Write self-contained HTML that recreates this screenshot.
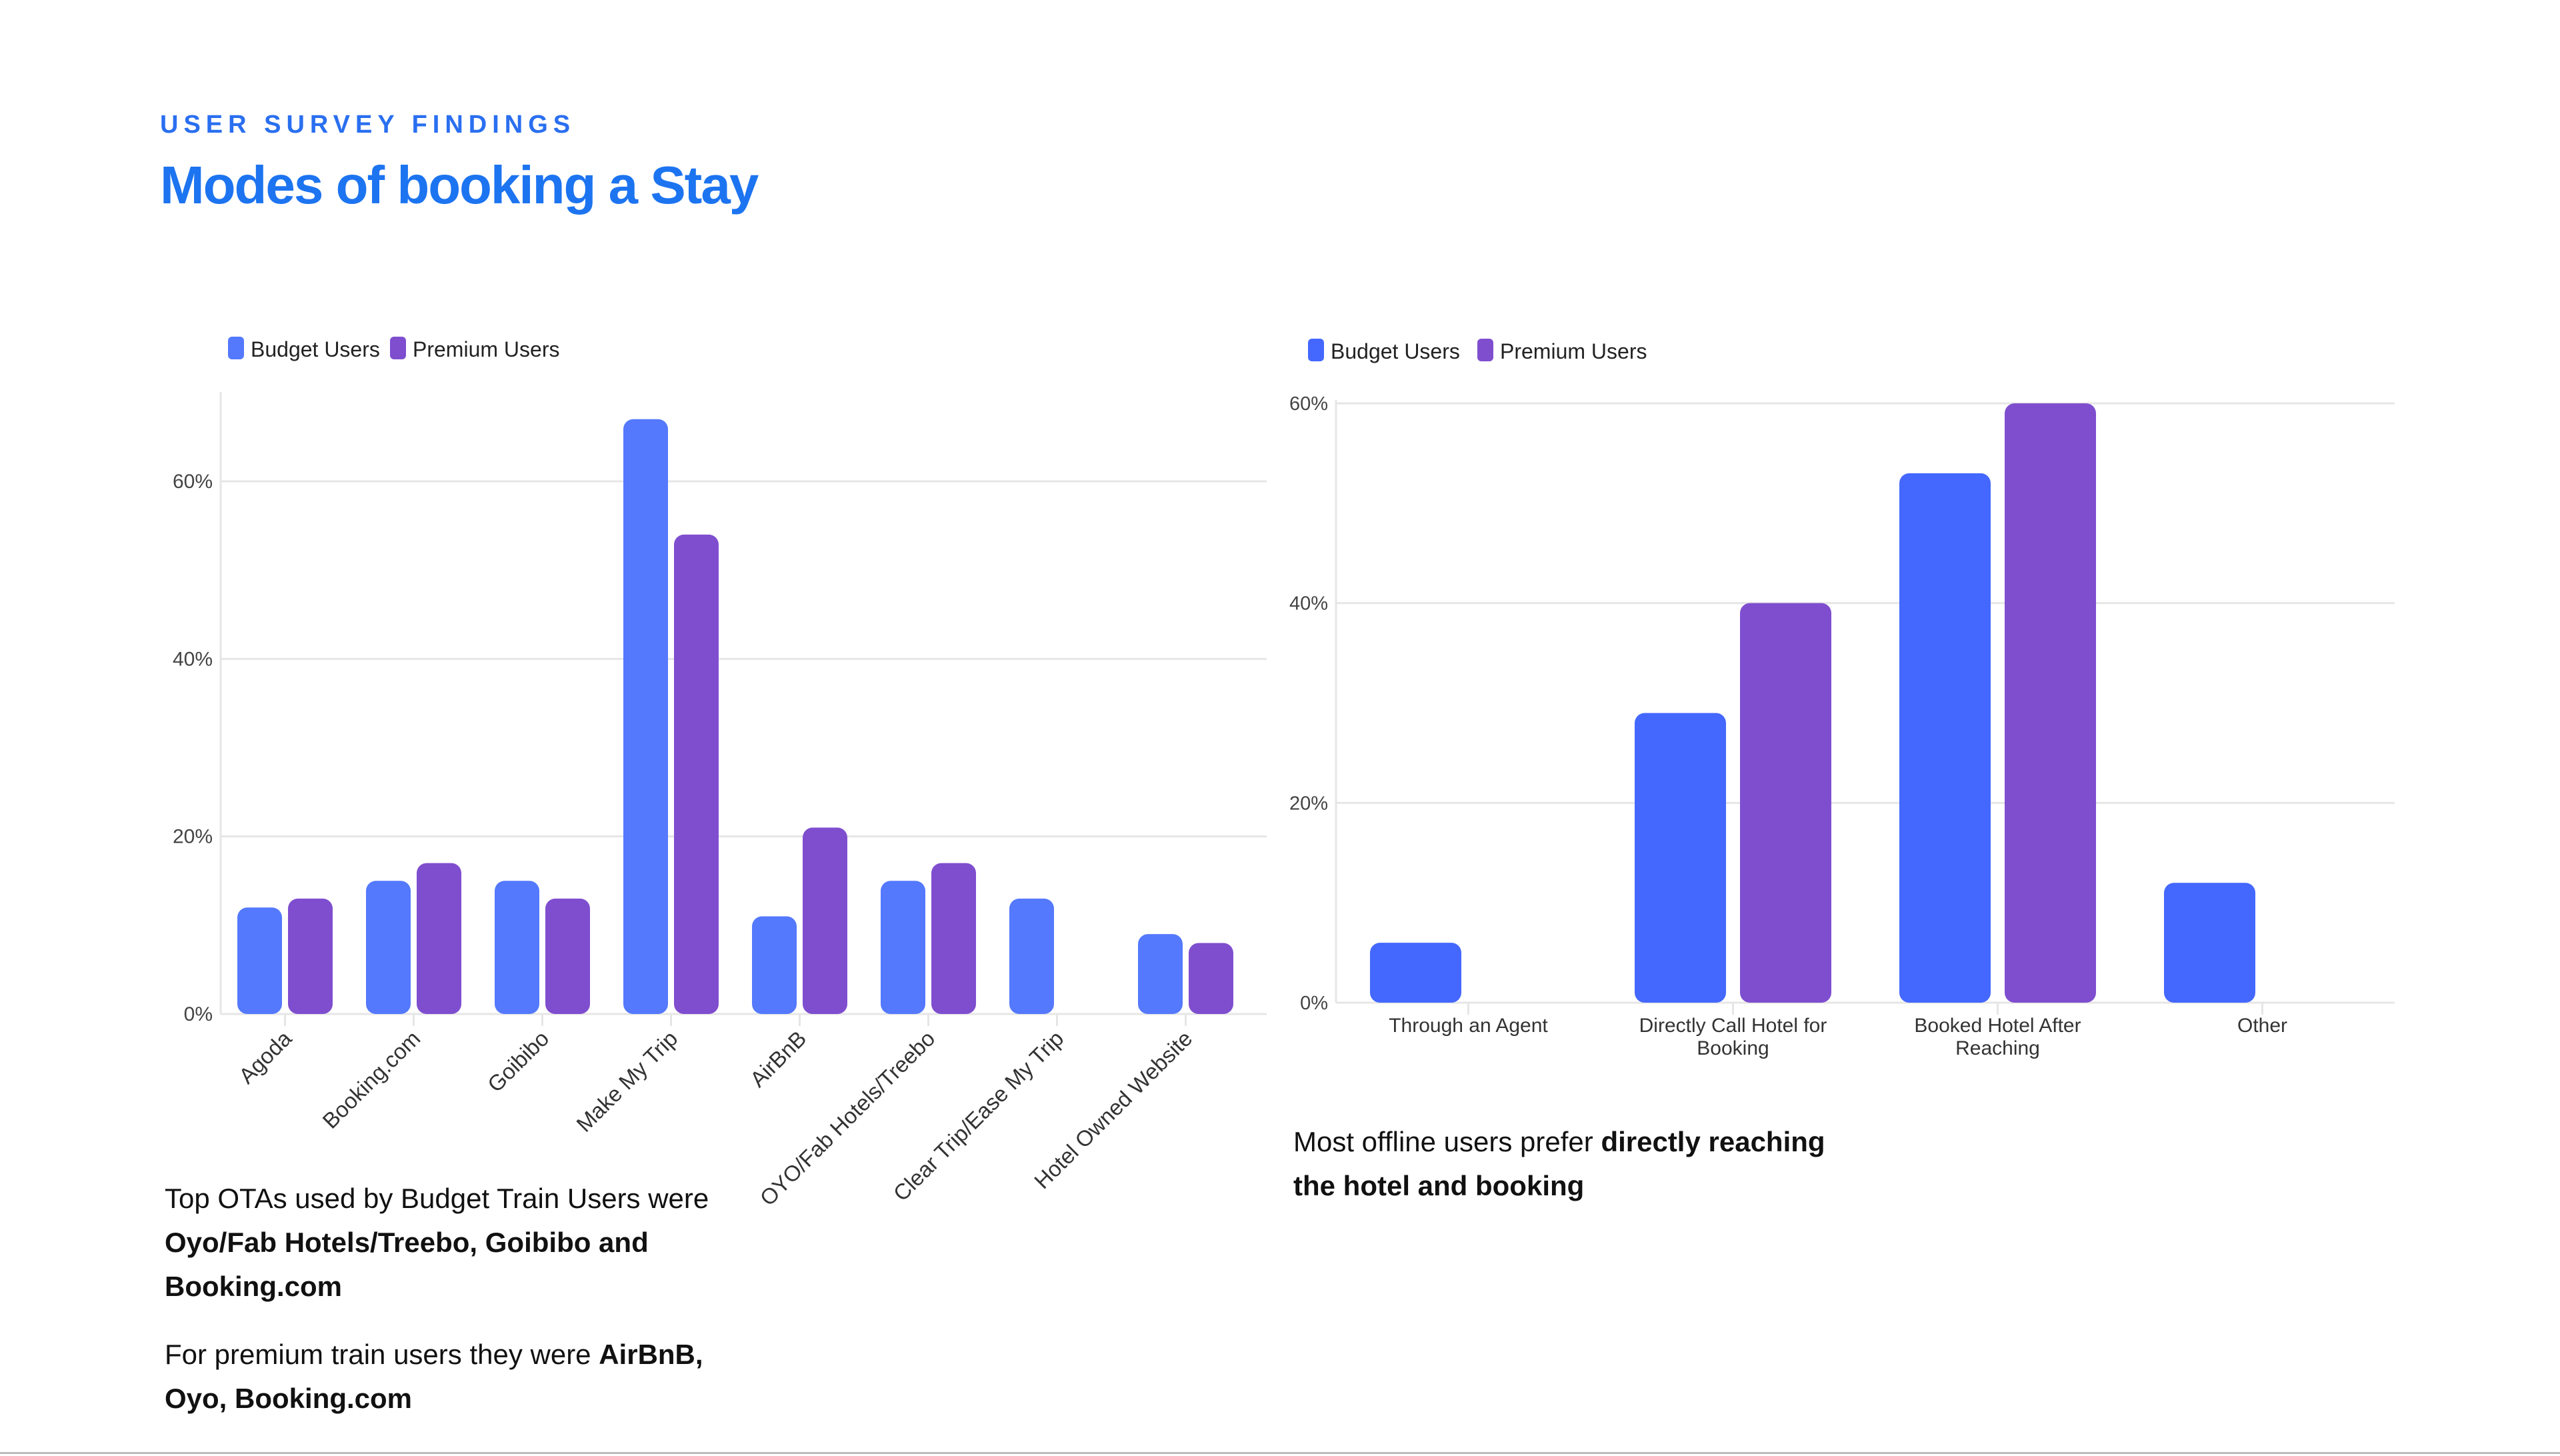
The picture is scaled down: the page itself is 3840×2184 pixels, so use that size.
<!DOCTYPE html>
<html><head><meta charset="utf-8"><style>
html,body{margin:0;padding:0;background:#fff;}
body{width:3840px;height:2184px;position:relative;overflow:hidden;font-family:"Liberation Sans",sans-serif;}
.abs{position:absolute;}
.kicker{left:240px;top:166px;font-size:38px;font-weight:bold;letter-spacing:8px;color:#2a6ff0;}
.title{left:240px;top:232px;font-size:80px;font-weight:bold;letter-spacing:-2px;color:#1d74f0;}
.para{font-size:42px;line-height:66px;color:#111;}
.para b{font-weight:bold;}
.bottom-line{left:0;top:2178px;width:3840px;height:3px;background:#bbb;}
</style></head><body>
<div class="abs kicker">USER SURVEY FINDINGS</div>
<div class="abs title">Modes of booking a Stay</div>
<svg class="abs" id="chart1" style="left:0;top:0" width="3840" height="2184"></svg>
<div class="abs para" style="left:247px;top:1765px;width:900px;">Top OTAs used by Budget Train Users were <b>Oyo/Fab Hotels/Treebo, Goibibo and Booking.com</b></div>
<div class="abs para" style="left:247px;top:1999px;width:900px;">For premium train users they were <b>AirBnB, Oyo, Booking.com</b></div>
<div class="abs para" style="left:1940px;top:1680px;width:840px;">Most offline users prefer <b>directly reaching the hotel and booking</b></div>
<div class="abs bottom-line"></div>
<script>
const otaCategories=["Agoda","Booking.com","Goibibo","Make My Trip","AirBnB","OYO/Fab Hotels/Treebo","Clear Trip/Ease My Trip","Hotel Owned Website"];
const otaBudget=[12,15,15,67,11,15,13,9];
const otaPremium=[13,17,13,54,21,17,0,8];
const otaTicks=[0,20,40,60];
const offCategories=[["Through an Agent"],["Directly Call Hotel for","Booking"],["Booked Hotel After","Reaching"],["Other"]];
const offBudget=[6,29,53,12];
const offPremium=[0,40,60,0];
const offTicks=[0,20,40,60];
const NS="http://www.w3.org/2000/svg";
const svg=document.getElementById('chart1');
function mk(tag,attrs,txt){const e=document.createElementNS(NS,tag);for(const k in attrs)e.setAttribute(k,attrs[k]);if(txt!==undefined)e.textContent=txt;svg.appendChild(e);return e;}
const FONT='"Liberation Sans",sans-serif';
function chart(o){
  const y=v=>o.y0-(v/o.vmax)*(o.y0-o.ytop);
  const band=(o.xr-o.xl)/o.cats.length;
  const x=i=>o.xl+band*(i+0.5);
  o.ticks.forEach(t=>{
    const g=mk('line',{x1:o.xl,x2:o.gridR,y1:y(t),y2:y(t),stroke:'#e6e6e6','stroke-width':3});
    
    
    const l=mk('text',{x:o.xl-12,y:y(t)+10,'text-anchor':'end','font-size':o.tfs,fill:'#444','font-family':FONT},t+'%');
    
    
  });
  const ax=mk('line',{x1:o.xl,x2:o.xl,y1:o.axTop,y2:o.y0,stroke:'#e6e6e6','stroke-width':3});
  
  
  o.cats.forEach((c,i)=>{
    const tk=mk('line',{x1:x(i),x2:x(i),y1:o.y0,y2:o.y0+18,stroke:'#e6e6e6','stroke-width':3});
    
    
    [[o.b,o.cb,-1,'budget'],[o.p,o.cp,1,'premium']].forEach(([arr,col,s,n])=>{
      const v=arr[i]; if(!v)return;
      const cx=x(i)+s*o.off;
      const r=mk('rect',{x:cx-o.bw/2,y:y(v),width:o.bw,height:o.y0-y(v),rx:15,fill:col});
      
      
    });
    o.label(c,x(i));
  });
  const lg=o.legend;
  [[o.cb,lg.n1,lg.x],[o.cp,lg.n2,lg.x2]].forEach(([col,txt,lx],k)=>{
    const sq=mk('rect',{x:lx,y:lg.y-18,width:24,height:34,rx:6,fill:col});
    
    
    const t=mk('text',{x:lx+34,y:lg.y+12,'font-size':32,fill:'#222','font-family':FONT},txt);
    
    
  });
}
chart({cats:otaCategories,b:otaBudget,p:otaPremium,ticks:otaTicks,vmax:60,y0:1521,ytop:722,xl:331,xr:1875,gridR:1900,axTop:588,
  bw:67,off:38,cb:'#5479fd',cp:'#7f4ecf',tfs:30,
  legend:{x:342,x2:585,y:523,n1:'Budget Users',n2:'Premium Users'},
  label:(c,cx)=>{const t=mk('text',{x:cx+12,y:1560,'text-anchor':'end','font-size':33,fill:'#333','font-family':FONT,transform:'rotate(-45 '+(cx+12)+' 1560)'},c);
    
    }});
chart({cats:offCategories,b:offBudget,p:offPremium,ticks:offTicks,vmax:60,y0:1504,ytop:605,xl:2004,xr:3592,gridR:3592,axTop:600,
  bw:137,off:79,cb:'#4468fe',cp:'#7f4ecf',tfs:29,
  legend:{x:1962,x2:2216,y:526,n1:'Budget  Users',n2:'Premium  Users'},
  label:(c,cx)=>{c.forEach((ln,j)=>{const t=mk('text',{x:cx,y:1548+j*34,'text-anchor':'middle','font-size':30,fill:'#333','font-family':FONT},ln);
    
    });}});
</script>
</body></html>
